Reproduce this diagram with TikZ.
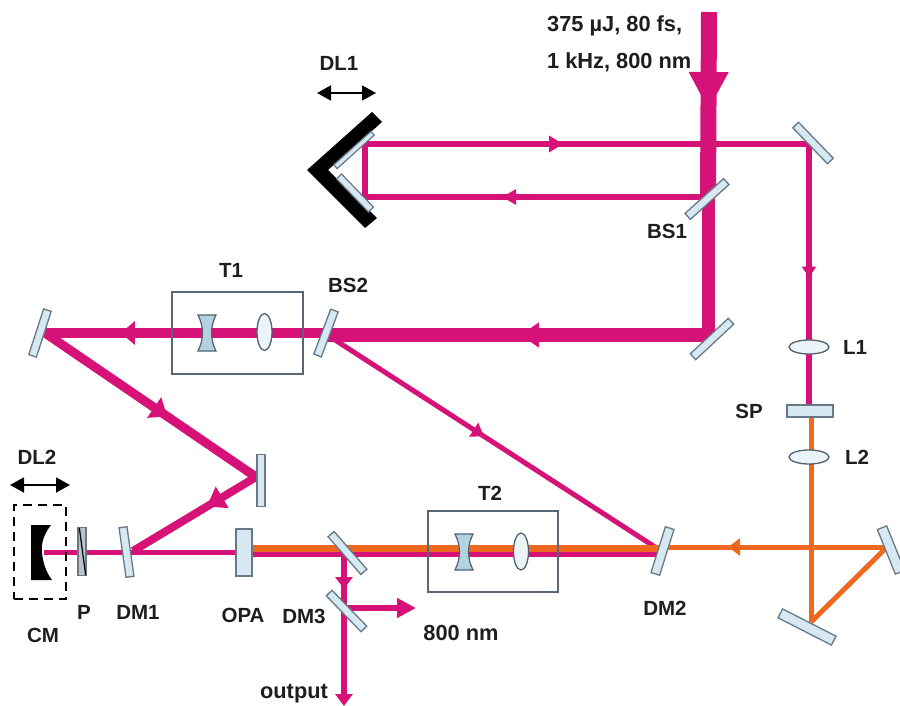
\documentclass[tikz,border=0pt]{standalone}
\usepackage{fontspec}
\setmainfont{Liberation Sans}
\usetikzlibrary{arrows.meta,decorations.markings,shapes.geometric,backgrounds,calc}
\definecolor{pump}{RGB}{214,18,120}
\definecolor{sig}{RGB}{238,104,32}
\definecolor{glass}{RGB}{214,232,242}
\definecolor{edgec}{RGB}{105,120,135}
\definecolor{labc}{RGB}{30,30,30}
\definecolor{lensc}{RGB}{178,210,224}
\tikzset{
  mirror/.style n args={2}{draw=edgec,line width=1.3pt,fill=glass,rectangle,inner sep=0pt,minimum width=#1pt,minimum height=#2pt},
  lens/.style n args={2}{draw=edgec!80!black,line width=1.3pt,fill=glass!50!white,ellipse,inner sep=0pt,minimum width=#1pt,minimum height=#2pt},
  lab/.style={font=\bfseries\fontsize{20.5}{22}\selectfont,text=labc,inner sep=0pt},
  labw/.style={font=\bfseries\fontsize{21.8}{24}\selectfont,text=labc,inner sep=0pt},
  hbox/.style={draw=edgec!85!black,line width=1.4pt,rectangle,inner sep=0pt,minimum width=#1},
  beam/.style={draw=pump,line width=#1pt},
  obeam/.style={draw=sig,line width=#1pt},
  tip/.style n args={3}{postaction={decorate,decoration={markings,mark=at position #1 with {\arrow{Triangle[length=#2pt,width=#3pt]}}}}},
  endtip/.style n args={2}{-{Triangle[length=#1pt,width=#2pt]}},
  move/.style={draw=black,line width=1.8pt,{Triangle[length=14pt,width=15pt]}-{Triangle[length=14pt,width=15pt]}},
  pics/neglens/.style={code={
    \draw[draw=edgec!80!black,line width=1.2pt,fill=lensc]
      (-9,-18) -- (9,-18) .. controls (3,-6) and (3,6) .. (9,18) -- (-9,18) .. controls (-3,6) and (-3,-6) .. (-9,-18) -- cycle;
  }}
}
\begin{document}
\begin{tikzpicture}[x=1pt,y=-1pt]
\useasboundingbox (0,0) rectangle (900,706);

% free ends and bend points
\coordinate (in) at (709,12);
\coordinate (split) at (708,197);
\coordinate (bendTR) at (809,144);
\coordinate (bendA) at (365,144);
\coordinate (bendB) at (365,197);
\coordinate (bendLow) at (708,335);
\coordinate (bs2main) at (326,335);
\coordinate (bs2left) at (326,333);
\coordinate (bs2hit) at (332,338);
\coordinate (dm2hit) at (655,547);
\coordinate (dm2o) at (660,547);
\coordinate (lmhit) at (45,333);
\coordinate (vmhit) at (256,477);
\coordinate (dm1hit) at (133,551);
\coordinate (cmhit) at (44,552);
\coordinate (opaL) at (244,552);
\coordinate (opaR) at (250,551);
\coordinate (dm2L) at (660,551);
\coordinate (opaRo) at (250,548.5);
\coordinate (dm2Lo) at (660,548.5);
\coordinate (rmhit) at (887,547);
\coordinate (bmhit) at (811,622);
\coordinate (spo) at (811,411);
\coordinate (spm) at (809,411);
\coordinate (outEnd) at (344,706);
\coordinate (nmEnd) at (416,608);
\coordinate (d3a) at (344,556);
\coordinate (d3c) at (344,611);
\coordinate (d3b) at (346,608);

% delay line 1
\fill[black] (307,170) -- (372,112) -- (382,122) -- (328,170) -- (377,218) -- (365,228) -- cycle;
\node[draw=edgec,line width=1.2pt,fill=glass,rectangle,inner sep=0pt,minimum width=50pt,minimum height=5pt,rotate=42] (R1) at (354,150) {};
\node[draw=edgec,line width=1.2pt,fill=glass,rectangle,inner sep=0pt,minimum width=46pt,minimum height=7pt,rotate=-46] (R2) at (355,193) {};

% mirrors and plates
\node[mirror={50}{8},rotate=-46] (M1) at (813,143) {};
\node[mirror={52}{8},rotate=42] (BS1) at (707,199) {};
\node[mirror={52}{8},rotate=43] (M2) at (712,339) {};
\node[mirror={48}{8},rotate=69.4] (BS2) at (326,333) {};
\node[mirror={48}{8},rotate=72] (LM) at (40,333) {};
\node[mirror={52}{8},rotate=90] (VM) at (261,480.5) {};
\node[mirror={50}{8},rotate=98] (DM1) at (126.5,552) {};
\node[mirror={48}{9},rotate=72.6] (DM2) at (662.5,551) {};
\node[mirror={48}{10},rotate=-68] (RM) at (891,550) {};
\node[mirror={60}{10},rotate=-27] (BM) at (807,627) {};
\node[mirror={50}{8},rotate=-49] (DM3a) at (347.5,553) {};
\node[mirror={50}{8},rotate=-46] (DM3b) at (346.5,611) {};
\node[mirror={46}{12}] (SP) at (810,411) {};
\node[mirror={47}{16},rotate=90] (OPA) at (244,552.5) {};
\node[draw=edgec,line width=1.3pt,fill=edgec!45!white,rectangle,inner sep=0pt,minimum width=8pt,minimum height=48pt] (P) at (82,551.5) {};
\draw[black,line width=1.2pt] ($(P.north west)+(2,1)$) -- ($(P.south east)+(-1,-1)$);

% lenses
\node[lens={40}{14}] (L1) at (809,347) {};
\node[lens={40}{14}] (L2) at (809,457) {};
\node[lens={15}{37}] (LT1) at (264.5,332) {};
\node[lens={15}{37}] (LT2) at (521,551.5) {};
\pic at (207,333) {neglens};
\pic at (464,552) {neglens};

% telescopes
\node[hbox=131pt,minimum height=82pt] (T1box) at (237.5,333) {};
\node[hbox=130pt,minimum height=81pt] (T2box) at (493,551.5) {};

% compressor
\fill[black] (31,525) -- (51,525) .. controls (43,535) and (41,545) .. (42,553) .. controls (43,563) and (46,572) .. (52,580) -- (31,580) -- cycle;
\node[draw=black,line width=2.6pt,dash pattern=on 9pt off 6pt,rectangle,inner sep=0pt,minimum width=52pt,minimum height=94pt] (CMbox) at (40,552) {};

% translation arrows
\coordinate (dl1a) at (317,93);
\coordinate (dl1b) at (376,93);
\coordinate (dl2a) at (10,485);
\coordinate (dl2b) at (70,485);
\draw[move] (dl1a) -- (dl1b);
\draw[move] (dl2a) -- (dl2b);

% beams, beneath the optics
\begin{pgfonlayer}{background}
  \draw[beam=6,tip={0.6}{14}{15}] (split) -- (bendB);
  \draw[beam=6,tip={0.446}{14}{16}] (bendA) -- (bendTR);
  \draw[beam=6,line cap=rect] (bendA) -- (bendB);
  \draw[beam=6,line cap=rect,tip={0.5}{11}{14}] (bendTR) -- (spm);
  \draw[beam=16,tip={0.53}{38}{37}] (in) -- (split);
  \draw[beam=13,line cap=rect] (split) -- (bendLow);
  \draw[beam=14,line cap=rect,tip={0.49}{18}{24}] (bendLow) -- (bs2main);
  \draw[beam=10,tip={0.73}{14}{23}] (bs2left) -- (lmhit);
  \draw[beam=9,tip={0.58}{16}{24}] (lmhit) -- (vmhit);
  \draw[beam=8,tip={0.4}{18}{24}] (vmhit) -- (dm1hit);
  \draw[beam=5,tip={0.47}{12}{16}] (bs2hit) -- (dm2hit);
  \draw[beam=5] (opaL) -- (cmhit);
  \draw[obeam=5] (spo) -- (bmhit);
  \draw[obeam=5] (bmhit) -- (rmhit);
  \draw[obeam=5,tip={0.70}{12}{17}] (rmhit) -- (dm2o);
  \draw[beam=12] (opaR) -- (dm2L);
  \draw[obeam=7] (opaRo) -- (dm2Lo);
  \draw[beam=6,tip={0.6}{12}{17}] (d3a) -- (d3c);
  \draw[beam=6,endtip={12}{17}] (d3c) -- (outEnd);
  \draw[beam=6,endtip={19}{19}] (d3b) -- (nmEnd);
\end{pgfonlayer}

% labels
\node[labw,anchor=west] (t1) at (547,26) {375 µJ, 80 fs,};
\node[labw,anchor=west] (t2) at (547,62) {1 kHz, 800 nm};
\node[lab] (tDL1) at (339,63) {DL1};
\node[lab] (tBS1) at (667,231) {BS1};
\node[lab] (tBS2) at (348,285) {BS2};
\node[lab] (tT1) at (231,270) {T1};
\node[lab] (tT2) at (490,493) {T2};
\node[lab] (tL1) at (855,347) {L1};
\node[lab] (tL2) at (857,457) {L2};
\node[lab] (tSP) at (749,411) {SP};
\node[lab] (tDM2) at (665,608) {DM2};
\node[lab] (tDL2) at (37,457) {DL2};
\node[lab] (tP) at (84,612) {P};
\node[lab] (tDM1) at (138,612) {DM1};
\node[lab] (tOPA) at (243,615) {OPA};
\node[lab] (tDM3) at (304,616) {DM3};
\node[lab] (tCM) at (43,635) {CM};
\node[labw] (t800) at (461,633) {800 nm};
\node[labw] (tout) at (294,694) {output};
\end{tikzpicture}
\end{document}
